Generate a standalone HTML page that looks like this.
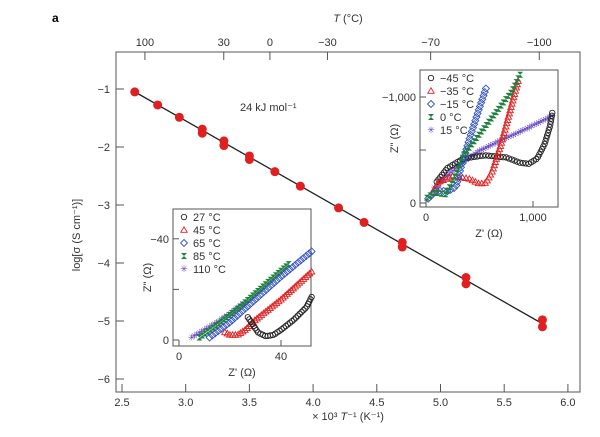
<!DOCTYPE html>
<html><head><style>body{margin:0;background:#fff}svg{display:block;font-family:"Liberation Sans",sans-serif}</style></head>
<body>
<svg id="s" width="600" height="437" viewBox="0 0 600 437" xmlns="http://www.w3.org/2000/svg">
<text x="52" y="22" font-size="12" font-weight="bold">a</text>
<rect x="116" y="52" width="464" height="340" fill="none" stroke="#555" stroke-width="1"/>
<g id="ax" stroke="#555" stroke-width="1"></g>
<g font-size="11" fill="#333" id="lab"></g>
<text x="348" y="22" font-size="11" fill="#333" text-anchor="middle"><tspan font-style="italic">T</tspan> (°C)</text>
<text x="348" y="420" font-size="11" fill="#333" text-anchor="middle">× 10³ <tspan font-style="italic">T</tspan>⁻¹ (K⁻¹)</text>
<text transform="translate(80,235) rotate(-90)" font-size="11" fill="#333" text-anchor="middle">log[σ (S cm⁻¹)]</text>
<text x="240" y="111" font-size="11" fill="#333">24 kJ mol⁻¹</text>
<line x1="135" y1="92" x2="543" y2="324" stroke="#222" stroke-width="1.3"/>
<g id="pts" fill="#e02020"></g>
<g id="in1"></g>
<g id="in2"></g>
</svg>
<script>
const NS="http://www.w3.org/2000/svg";
function el(p,t,a,txt){const e=document.createElementNS(NS,t);for(const k in a)e.setAttribute(k,a[k]);if(txt!==undefined)e.textContent=txt;document.getElementById(p).appendChild(e);return e;}
const X=v=>122+(v-2.5)*127.4, Y=v=>89+(-1-v)*58;
for(let v=2.5;v<=6.01;v+=0.5){const x=X(v);el('ax','line',{x1:x,y1:392,x2:x,y2:384});el('lab','text',{x:x,y:406,'text-anchor':'middle'},v.toFixed(1));}
for(let v=-1;v>=-6;v--){const y=Y(v);el('ax','line',{x1:116,y1:y,x2:124,y2:y});el('lab','text',{x:110,y:y+4,'text-anchor':'end'},'−'+(-v));}
[100,30,0,-30,-70,-100].forEach(t=>{const x=X(1000/(t+273.15));el('ax','line',{x1:x,y1:52,x2:x,y2:60});el('lab','text',{x:x,y:46,'text-anchor':'middle'},t<0?'−'+(-t):t);});
const L=x=>-1.05-(x-2.6)*1.25;
[[2.6,0],[2.78,0],[2.95,0],[3.13,0.02],[3.13,-0.05],[3.3,0.03],[3.3,-0.05],[3.5,0.02],[3.5,-0.04],[3.7,0],[3.9,0],[4.2,0],[4.4,0],[4.7,0.03],[4.7,-0.05],[5.2,0.05],[5.2,-0.06],[5.8,0.07],[5.8,-0.05]].forEach(p=>el('pts','circle',{cx:X(p[0]),cy:Y(L(p[0])+p[1]),r:4.5}));
function inset(g,x0,y0,w,h,fx,fy,xt,yt,xl,yl,leg,series,draw){
 el(g,'rect',{x:x0,y:y0,width:w,height:h,fill:'#fff',stroke:'#555'});
 xt.forEach(v=>{el(g,'line',{x1:fx(v[0]),y1:y0+h,x2:fx(v[0]),y2:y0+h-6,stroke:'#555'});el(g,'text',{x:fx(v[0]),y:y0+h+14,'font-size':11,fill:'#333','text-anchor':'middle'},v[1]);});
 yt.forEach(v=>{el(g,'line',{x1:x0,y1:fy(v[0]),x2:x0+6,y2:fy(v[0]),stroke:'#555'});el(g,'text',{x:x0-4,y:fy(v[0])+4,'font-size':11,fill:'#333','text-anchor':'end'},v[1]);});
 el(g,'text',{x:x0+w/2,y:y0+h+30,'font-size':11,fill:'#333','text-anchor':'middle'},xl);
 el(g,'text',{transform:`translate(${x0-22},${y0+h/2}) rotate(-90)`,'font-size':11,fill:'#333','text-anchor':'middle'},yl);
 draw.forEach(i=>{const s=series[i];s.pts.forEach(p=>mk(g,fx(p[0]),fy(p[1]),s.m,s.c));});
 series.forEach((s,i)=>{const ly=y0+12+i*13;mk(g,x0+11,ly-4,s.m,s.c);el(g,'text',{x:x0+20,y:ly,'font-size':11,fill:'#333'},leg[i]);});
}
function mk(g,x,y,m,c){
 if(m=='o')el(g,'circle',{cx:x,cy:y,r:2.7,fill:'none',stroke:c,'stroke-width':0.9});
 else if(m=='t')el(g,'polygon',{points:`${x},${y-3.2} ${x-3.2},${y+2.3} ${x+3.2},${y+2.3}`,fill:'none',stroke:c,'stroke-width':0.9});
 else if(m=='d')el(g,'polygon',{points:`${x},${y-3.5} ${x+3.5},${y} ${x},${y+3.5} ${x-3.5},${y}`,fill:'none',stroke:c,'stroke-width':0.9});
 else if(m=='h')el(g,'polygon',{points:`${x-3},${y-3} ${x+3},${y-3} ${x},${y} ${x+3},${y+3} ${x-3},${y+3} ${x},${y}`,fill:c});
 else if(m=='s')el(g,'text',{x:x,y:y+3,'font-size':9,fill:c,'text-anchor':'middle'},'✳');
 else el(g,'line',{x1:x,y1:y-3,x2:x,y2:y+3,stroke:c});
}
function poly(ctrl,n){const r=[];let tot=0;const seg=[];for(let i=1;i<ctrl.length;i++){const d=Math.hypot(ctrl[i][0]-ctrl[i-1][0],(ctrl[i][1]-ctrl[i-1][1]));seg.push(d);tot+=d;}
 for(let k=0;k<=n;k++){let t=k/n*tot,i=0;while(i<seg.length-1&&t>seg[i]){t-=seg[i];i++;}const u=Math.min(1,t/seg[i]);r.push([ctrl[i][0]+(ctrl[i+1][0]-ctrl[i][0])*u,ctrl[i][1]+(ctrl[i+1][1]-ctrl[i][1])*u]);}return r;}
function arc(a,b,h,n){const r=[];const c=(a+b)/2,R=(b-a)/2;for(let i=0;i<=n;i++){const t=Math.PI-i/n*Math.PI;r.push([c+R*Math.cos(t),h*Math.sin(t)]);}return r;}
const g1x=v=>426+v*0.107,g1y=v=>203-v*0.106;
inset('in1',420,70,138,137,g1x,g1y,[[0,'0'],[1000,'1,000']],[[0,'0'],[500,''],[1000,'−1,000']],'Z\' (Ω)','Z" (Ω)',
 ['−45 °C','−35 °C','−15 °C','0 °C','15 °C'],
 [{m:'o',c:'#222',pts:poly([[100,200],[200,330],[350,420],[550,450],[750,430],[880,380],[960,370],[1040,420],[1110,560],[1160,730],[1180,850]],55)},
  {m:'t',c:'#e02020',pts:poly([[60,100],[120,200],[250,250],[400,230],[500,180],[560,190],[620,300],[700,550],[780,850],[860,1150]],50)},
  {m:'d',c:'#3050c0',pts:poly([[20,40],[100,120],[200,110],[280,150],[330,350],[420,650],[500,900],[560,1080]],36)},
  {m:'h',c:'#208040',pts:poly([[10,50],[80,100],[180,80],[250,200],[350,450],[500,650],[650,850],[800,1050],[880,1210]],40)},
  {m:'s',c:'#6040c0',pts:poly([[80,140],[300,350],[500,490],[700,590],[900,680],[1180,820]],55)}],[4,0,1,2,3]);
const g2x=v=>179+v*2.55,g2y=v=>340-v*2.53;
inset('in2',173,209,138,137,g2x,g2y,[[0,'0'],[40,'40']],[[0,'0'],[20,''],[40,'−40']],'Z\' (Ω)','Z" (Ω)',
 ['27 °C','45 °C','65 °C','85 °C','110 °C'],
 [{m:'o',c:'#222',pts:poly([[27,9],[29,6],[31,3],[34,1.5],[37,2],[40,4],[45,8],[50,13],[52,17]],34)},
  {m:'t',c:'#e02020',pts:poly([[18,3],[20,2],[23,2],[26,4],[30,8],[40,16],[52,27]],40)},
  {m:'d',c:'#3050c0',pts:poly([[12,1],[20,7],[30,16],[40,25],[52,35]],38)},
  {m:'h',c:'#208040',pts:poly([[8,1],[15,6],[25,14],[35,23],[43,30]],34)},
  {m:'s',c:'#6040c0',pts:poly([[5,1],[10,4],[18,9],[26,15]],22)}],[4,3,2,1,0]);
</script>
</body></html>
